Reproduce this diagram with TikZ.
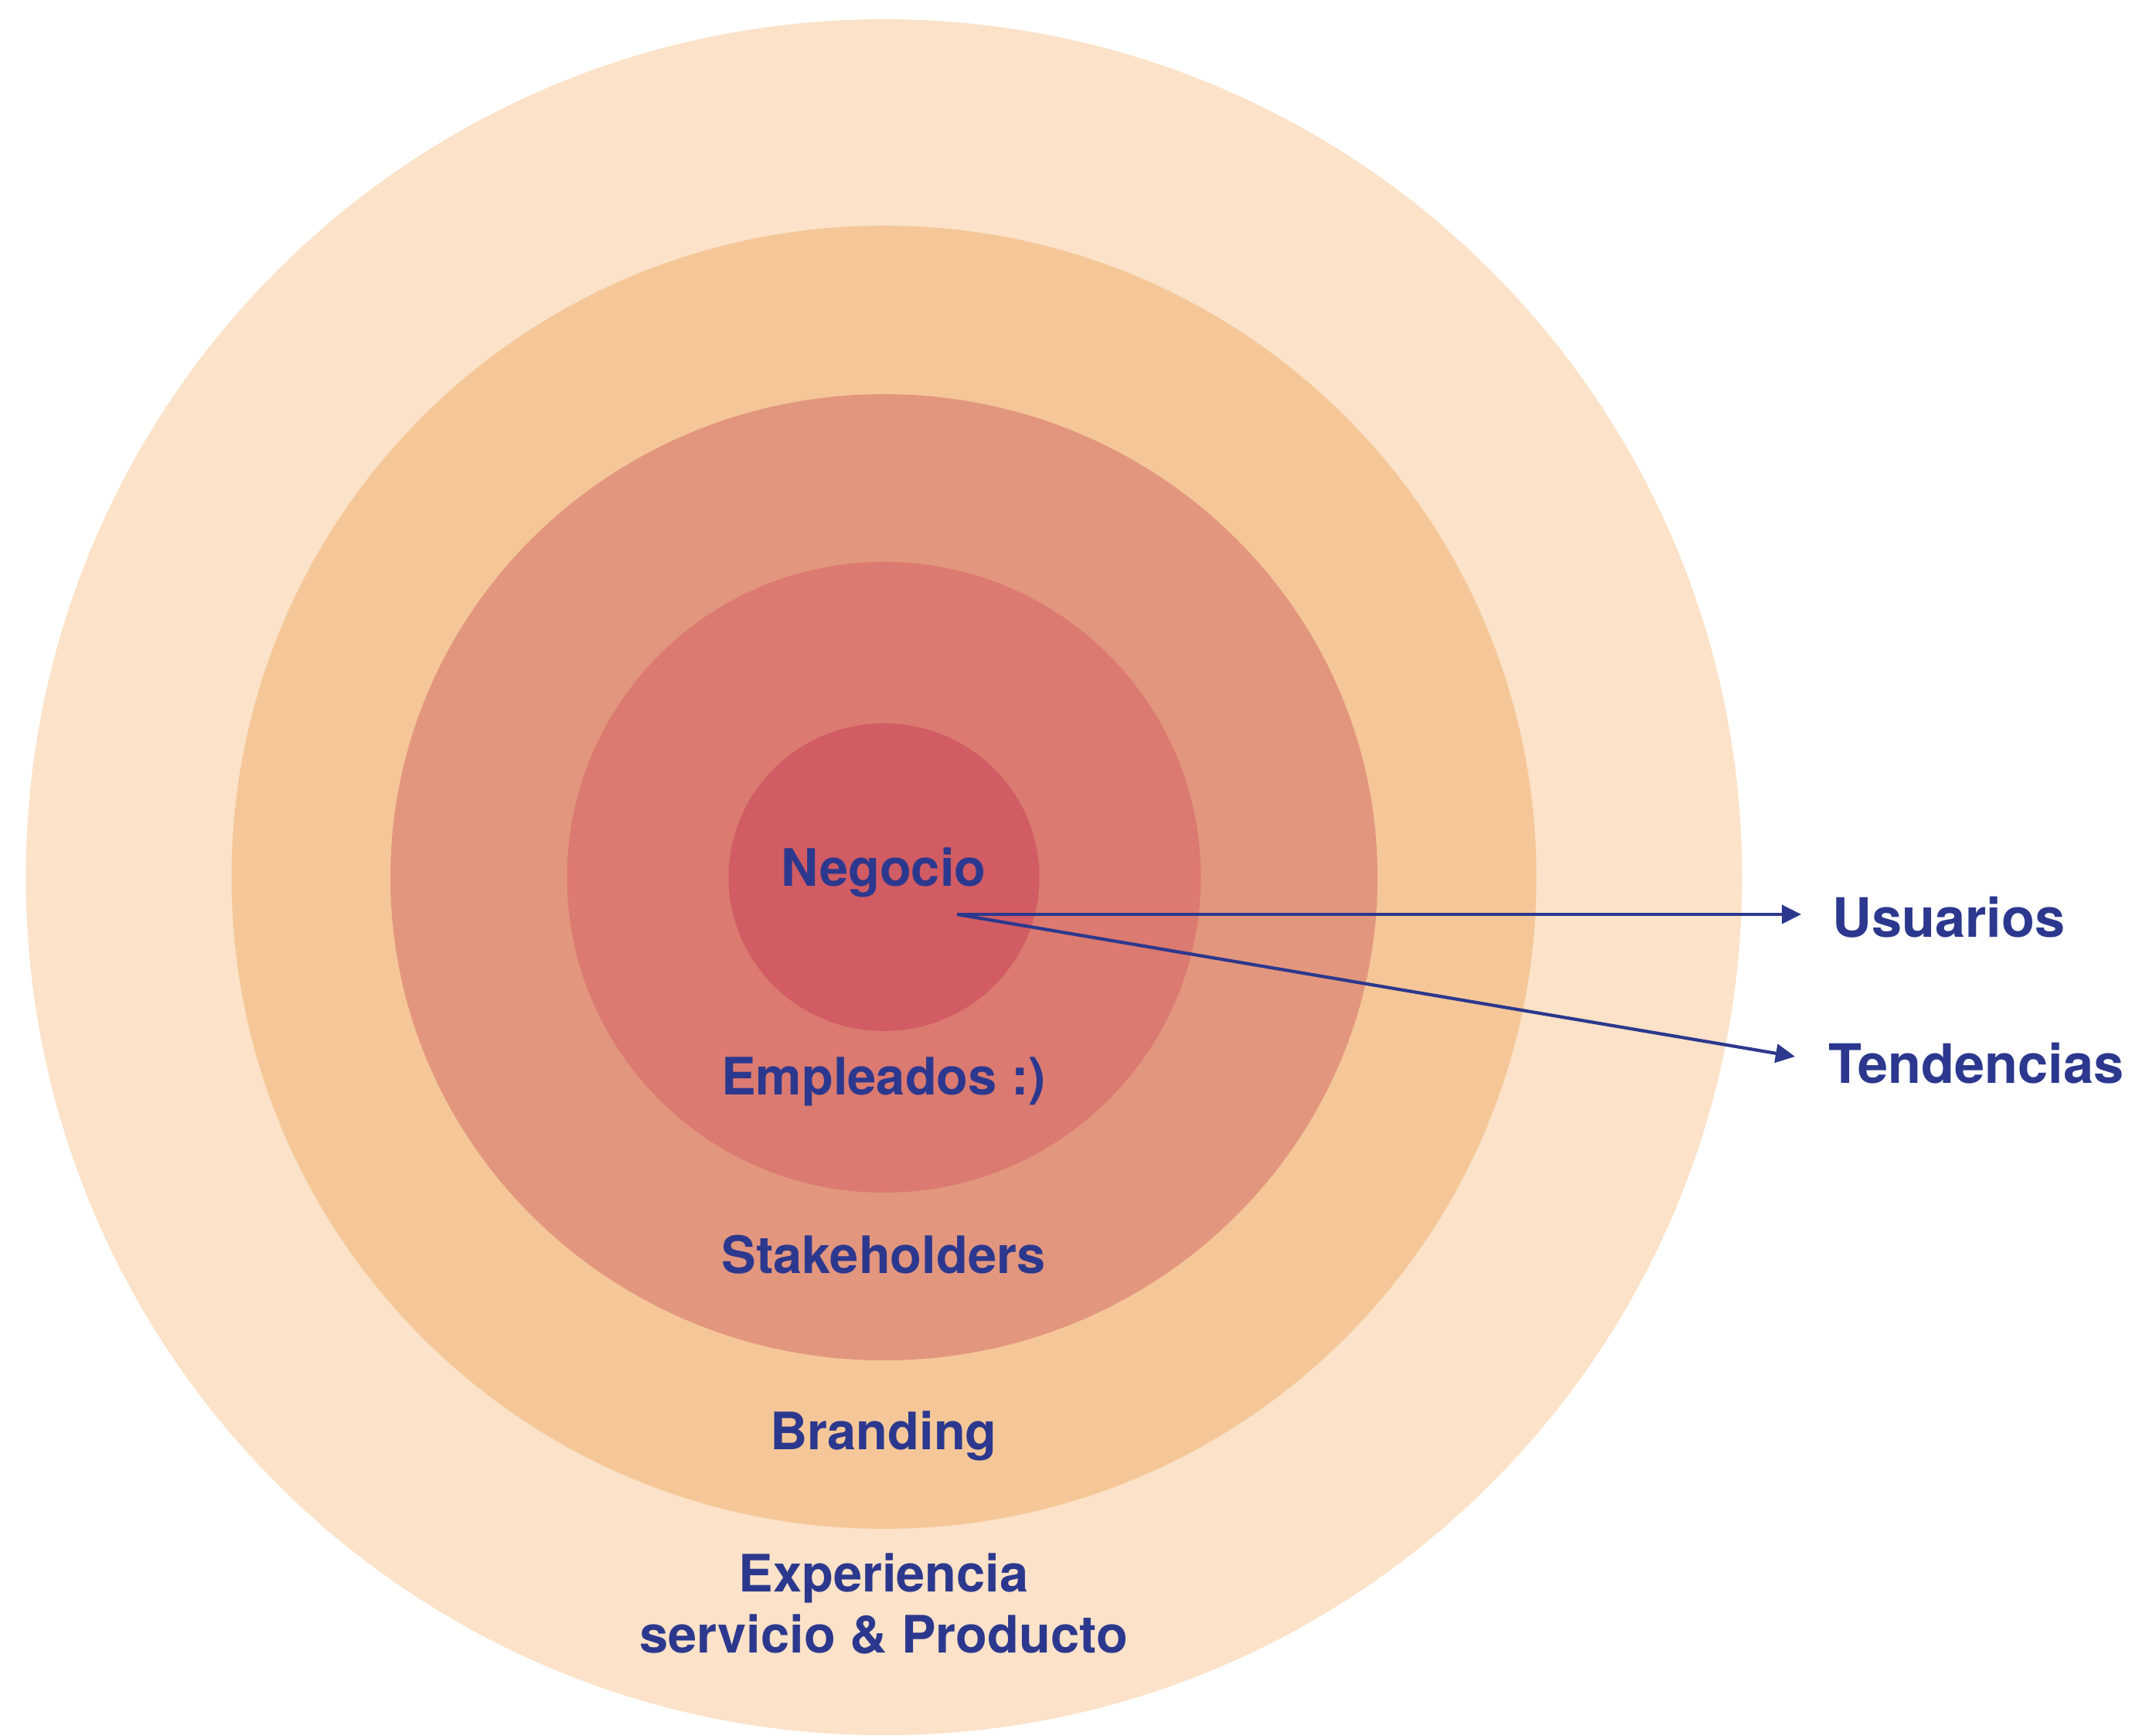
\documentclass[tikz,border=0pt]{standalone}
\usepackage{fontspec}
\setmainfont{TeX Gyre Heros}
\usepackage{tikz}
\usetikzlibrary{arrows.meta}
\usetikzlibrary{shapes.geometric}
\usetikzlibrary{positioning}
\definecolor{ink}{RGB}{44,56,142}
\definecolor{shell0}{RGB}{251,226,200}
\definecolor{shell1}{RGB}{245,199,152}
\definecolor{shell2}{RGB}{227,150,126}
\definecolor{shell3}{RGB}{219,122,112}
\definecolor{shell4}{RGB}{209,92,99}
\tikzstyle{ring}=[ellipse, inner sep=0pt, outer sep=0pt, draw=none]
\tikzstyle{layer}=[text=ink, font=\bfseries\fontsize{19}{22}\selectfont, anchor=base, inner sep=0pt, align=center]
\tikzstyle{side}=[text=ink, font=\bfseries\fontsize{20}{24}\selectfont, anchor=base west, inner sep=0pt]
\tikzstyle{link}=[draw=ink, line width=1.2pt, -{Triangle[length=0.25cm,width=0.24cm]}]

\begin{document}
\begin{tikzpicture}
\useasboundingbox (0,0) rectangle (27.67,22.46);
\coordinate (ctr) at (11.435,11.11);
\node[ring, fill=shell0, minimum width=22.2cm, minimum height=22.2cm] (ring0) at (ctr){};
\node[ring, fill=shell1, minimum width=16.88cm, minimum height=16.86cm] (ring1) at (ctr){};
\node[ring, fill=shell2, minimum width=12.77cm, minimum height=12.5cm] (ring2) at (ctr){};
\node[ring, fill=shell3, minimum width=8.2cm, minimum height=8.16cm] (ring3) at (ctr){};
\node[ring, fill=shell4, minimum width=4.02cm, minimum height=3.98cm] (ring4) at (ctr){};
\node[layer] (neg) at (11.43,10.99){Negocio};
\node[layer] (emp) at (11.43,8.29){Empleados :)};
\node[layer] (stk) at (11.43,5.98){Stakeholders};
\node[layer] (brand) at (11.43,3.70){Branding};
\node[layer] (exp) at (11.43,1.86){Experiencia};
\node[layer] (srv) at (11.43,1.07){servicio \& Producto};
\node[side] (usu) at (23.70,10.33){Usuarios};
\node[side] (ten) at (23.65,8.44){Tendencias};
\coordinate (src) at (12.38,10.63);
\coordinate (usutip) at (23.30,10.63);
\coordinate (tentip) at (23.22,8.79);
\draw[link](src) -- (usutip);
\draw[link](src) -- (tentip);
\end{tikzpicture}
\end{document}
